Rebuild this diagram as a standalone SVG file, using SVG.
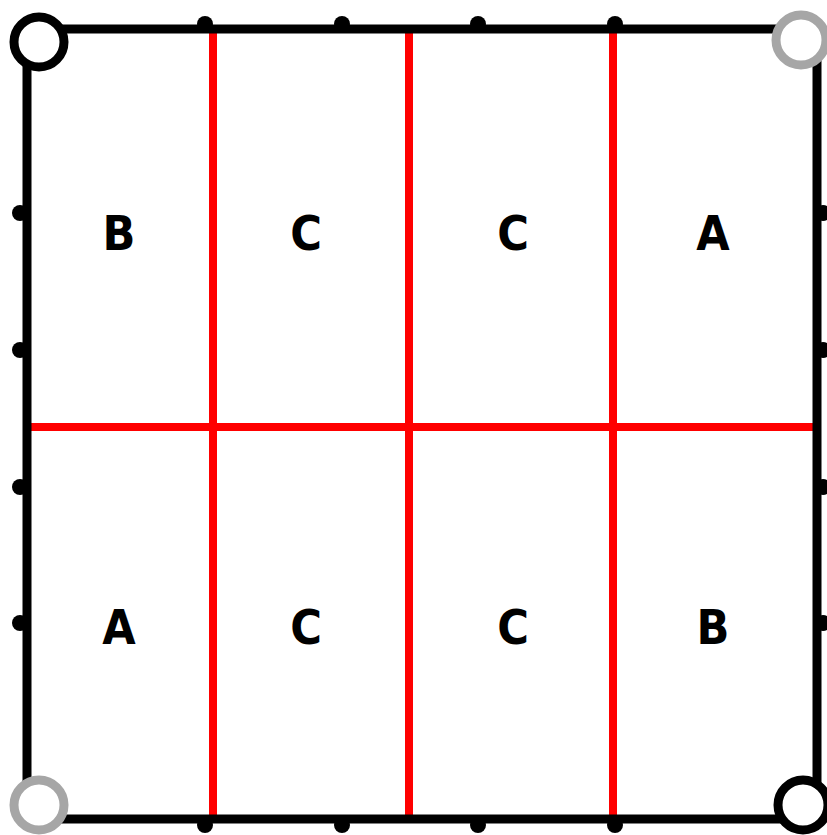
<svg xmlns="http://www.w3.org/2000/svg" width="827" height="835" viewBox="0 0 827 835">
<style>
.frame{fill:none;stroke:#000;stroke-width:9}
.red{stroke:#ff0000;stroke-width:8;fill:none}
.tick{fill:#000}
.cb{fill:#fff;stroke:#000;stroke-width:9}
.cg{fill:#fff;stroke:#a6a6a6;stroke-width:9}
.lbl{font-family:"DejaVu Sans Condensed","DejaVu Sans",sans-serif;font-weight:bold;font-size:48px;fill:#000;text-anchor:middle}
</style>
<rect width="827" height="835" fill="#fff"/>
<g id="connectors">
<line class="red" x1="213" y1="33" x2="213" y2="815"/>
<line class="red" x1="409" y1="33" x2="409" y2="815"/>
<line class="red" x1="613" y1="33" x2="613" y2="815"/>
<line class="red" x1="31" y1="427" x2="813" y2="427"/>
</g>
<g id="ticks">
<circle class="tick" cx="205" cy="24" r="8"/>
<circle class="tick" cx="342" cy="24" r="8"/>
<circle class="tick" cx="478" cy="24" r="8"/>
<circle class="tick" cx="615" cy="24" r="8"/>
<circle class="tick" cx="205" cy="825" r="8"/>
<circle class="tick" cx="342" cy="825" r="8"/>
<circle class="tick" cx="478" cy="825" r="8"/>
<circle class="tick" cx="615" cy="825" r="8"/>
<circle class="tick" cx="20" cy="213" r="8"/>
<circle class="tick" cx="20" cy="350" r="8"/>
<circle class="tick" cx="20" cy="487" r="8"/>
<circle class="tick" cx="20" cy="623" r="8"/>
<circle class="tick" cx="823" cy="213" r="8"/>
<circle class="tick" cx="823" cy="350" r="8"/>
<circle class="tick" cx="823" cy="487" r="8"/>
<circle class="tick" cx="823" cy="623" r="8"/>
</g>
<g id="frame">
<rect class="frame" x="27" y="29" width="790" height="790"/>
</g>
<g id="corner-tl"><circle class="cb" cx="39" cy="42" r="25"/></g>
<g id="corner-tr"><circle class="cg" cx="801" cy="40" r="25"/></g>
<g id="corner-bl"><circle class="cg" cx="39" cy="805" r="25"/></g>
<g id="corner-br"><circle class="cb" cx="803" cy="805" r="25"/></g>
<g id="cell-1"><text class="lbl" x="119" y="250">B</text></g>
<g id="cell-2"><text class="lbl" x="306" y="250">C</text></g>
<g id="cell-3"><text class="lbl" x="513" y="250">C</text></g>
<g id="cell-4"><text class="lbl" x="713" y="250">A</text></g>
<g id="cell-5"><text class="lbl" x="119" y="644">A</text></g>
<g id="cell-6"><text class="lbl" x="306" y="644">C</text></g>
<g id="cell-7"><text class="lbl" x="513" y="644">C</text></g>
<g id="cell-8"><text class="lbl" x="713" y="644">B</text></g>
</svg>
